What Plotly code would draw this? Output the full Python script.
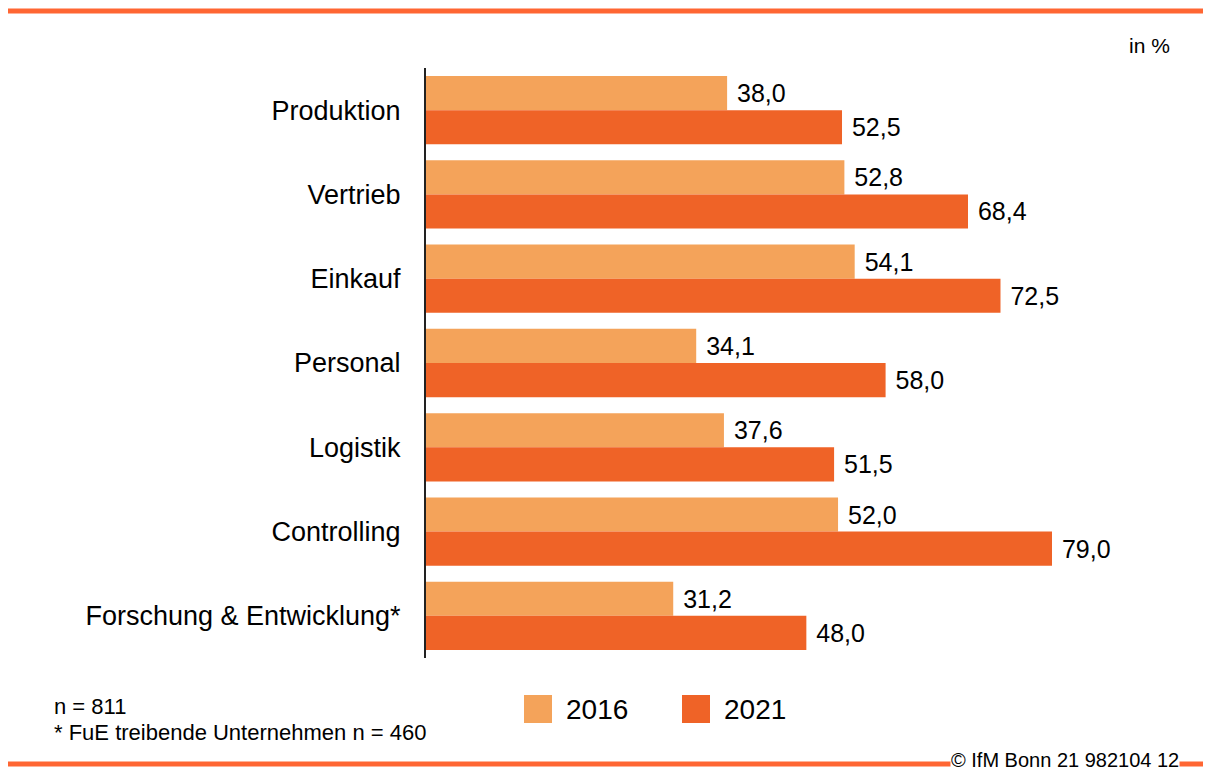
import plotly.graph_objects as go

categories = ["Produktion", "Vertrieb", "Einkauf", "Personal", "Logistik",
              "Controlling", "Forschung & Entwicklung*"]
values_2016 = [38.0, 52.8, 54.1, 34.1, 37.6, 52.0, 31.2]
values_2021 = [52.5, 68.4, 72.5, 58.0, 51.5, 79.0, 48.0]
series_names = ["2016", "2021"]
colors = ["#F4A35A", "#EF6327"]
line_color = "#FF6633"

# page is shown with an 8px body margin; work in page pixels and convert
OFF = 8
PAGE_W, PAGE_H = 1211, 772
W, H = PAGE_W - OFF, PAGE_H - OFF
AX_X, PLOT_R, PLOT_T, PLOT_B = 426, 1155, 68, 658   # page pixels
L, R, T, B = AX_X - OFF, PAGE_W - PLOT_R, PLOT_T - OFF, PAGE_H - PLOT_B
PW, PH = W - L - R, H - T - B
FONT = "Liberation Sans, Arial, sans-serif"


def px(x):
    return (x - AX_X) / PW


def py(y):
    return (PLOT_B - y) / PH


fig = go.Figure()
for name, vals, col in zip(series_names, [values_2016, values_2021], colors):
    fig.add_trace(go.Bar(
        y=categories, x=vals, name=name, orientation="h",
        marker=dict(color=col, line=dict(width=0)),
        texttemplate="\u00a0%{x:.1f}", textposition="outside",
        textfont=dict(size=25, color="black", family=FONT),
        constraintext="none", cliponaxis=False, showlegend=False,
    ))

shapes = [
    dict(type="line", xref="paper", yref="paper", x0=px(5), x1=px(1215),
         y0=py(11), y1=py(11), line=dict(color=line_color, width=5)),
    dict(type="line", xref="paper", yref="paper", x0=px(5), x1=px(1215),
         y0=py(764), y1=py(764), line=dict(color=line_color, width=5)),
]
annotations = [
    dict(text="in %", xref="paper", yref="paper", x=px(1172), y=py(46),
         xanchor="right", yanchor="middle", showarrow=False,
         font=dict(size=21, color="black", family=FONT)),
    dict(text="n = 811", xref="paper", yref="paper", x=px(52), y=py(706),
         xanchor="left", yanchor="middle", showarrow=False,
         font=dict(size=22, color="black", family=FONT)),
    dict(text="* FuE treibende Unternehmen n = 460", xref="paper", yref="paper",
         x=px(52), y=py(732), xanchor="left", yanchor="middle", showarrow=False,
         font=dict(size=22, color="black", family=FONT)),
    dict(text="© IfM Bonn 21 982104 12", xref="paper", yref="paper",
         x=px(1180), y=py(772), xanchor="right", yanchor="bottom", showarrow=False,
         bgcolor="white", borderpad=0,
         font=dict(size=20, color="black", family=FONT)),
]
# legend drawn manually
leg_x = [524, 682]
for lx, name, col in zip(leg_x, series_names, colors):
    shapes.append(dict(type="rect", xref="paper", yref="paper",
                       x0=px(lx), x1=px(lx + 28), y0=py(723), y1=py(695),
                       fillcolor=col, line=dict(width=0)))
    annotations.append(dict(text=name, xref="paper", yref="paper",
                            x=px(lx + 40), y=py(709), xanchor="left",
                            yanchor="middle", showarrow=False,
                            font=dict(size=28, color="black", family=FONT)))

fig.update_layout(
    width=W, height=H, autosize=False,
    margin=dict(l=L, r=R, t=T, b=B),
    paper_bgcolor="white", plot_bgcolor="white",
    barmode="group", bargap=0.19, bargroupgap=0,
    separators=",.",
    font=dict(family=FONT, color="black"),
    shapes=shapes, annotations=annotations,
    xaxis=dict(range=[0, PW / 7.924], showgrid=False, zeroline=False,
               showticklabels=False, showline=False, fixedrange=True),
    yaxis=dict(categoryorder="array", categoryarray=categories,
               autorange="reversed", showgrid=False, zeroline=False,
               showline=True, linecolor="#222222", linewidth=2,
               ticks="", ticklabelstandoff=18,
               tickfont=dict(size=27, color="black", family=FONT)),
    showlegend=False,
)

fig.write_html("out.html")
